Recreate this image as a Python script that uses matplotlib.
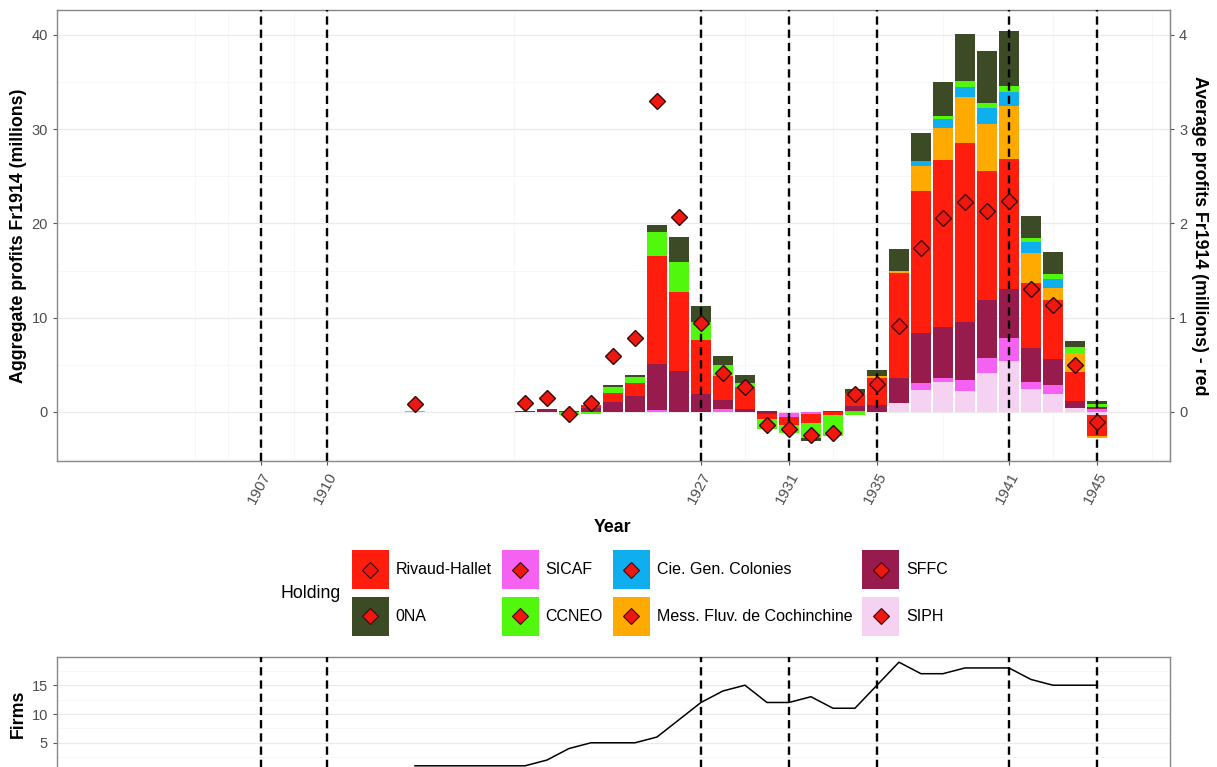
import numpy as np
import matplotlib
matplotlib.use("agg")
import matplotlib.pyplot as plt
from matplotlib.patches import Patch, Rectangle
from matplotlib.lines import Line2D
from matplotlib.ticker import FixedLocator

plt.rcParams['font.family'] = ['Liberation Sans', 'DejaVu Sans']

# years with profit data
years = [1914, 1919, 1920, 1921, 1922, 1923, 1924, 1925, 1926, 1927, 1928, 1929, 1930,
         1931, 1932, 1933, 1934, 1935, 1936, 1937, 1938, 1939, 1940, 1941, 1942, 1943,
         1944, 1945]

# aggregate profits by holding (Fr1914 millions)
ona = [0, 0, 0, 0, 0, 0.15, 0.2, 0.74, 2.65, 1.77, 0.95, 0.8, 0.15, 0, -0.25, 0, 0.4,
       0.65, 2.37, 2.9, 3.64, 4.95, 5.55, 5.84, 2.3, 2.37, 0.6, 0.35]
ccneo = [0.1, 0, 0, -0.3, -0.2, 0.65, 0.64, 2.55, 3.18, 1.84, 1.17, 0.4, -1.0, -0.9,
         -1.6, -2.25, -0.32, 0, 0, 0, 0.32, 0.6, 0.53, 0.6, 0.42, 0.53, 0.64, 0.25]
cie_gen = [0, 0, 0, 0, 0, 0, 0, 0, 0, 0, 0, 0, 0, 0, 0, 0, 0, 0, 0, 0.57, 0.92, 1.13,
           1.7, 1.52, 1.17, 0.99, 0, 0]
mess_fluv = [0, 0, 0, 0, 0, 0, 0, 0, 0, 0, 0, 0, 0, 0, 0, 0, 0, 0.2, 0.2, 2.62, 3.43,
             4.81, 4.92, 5.66, 3.25, 1.24, 2.0, -0.2]
rivaud = [0, 0, 0, 0, 0.3, 0.95, 1.38, 11.4, 8.3, 5.73, 2.47, 2.4, -0.53, -0.8, -1.0,
          -0.35, 1.4, 2.9, 11.2, 15.13, 17.7, 19.0, 13.72, 13.8, 6.9, 6.3, 3.1, -2.3]
sffc = [0, 0.09, 0.29, 0.15, 0.4, 1.1, 1.66, 4.85, 4.4, 1.94, 0.95, 0.3, -0.25, 0, 0,
        0.15, 0.5, 0.7, 2.58, 5.23, 5.4, 6.19, 6.12, 5.2, 3.6, 2.72, 0.78, 0.25]
sicaf = [0, 0, 0, 0, 0, 0, 0, 0.25, 0, 0, 0.35, 0, 0, -0.45, -0.2, 0, 0.15, 0, 0,
         0.78, 0.42, 1.13, 1.59, 2.37, 0.71, 0.95, 0, 0.3]
siph = [0, 0, 0, 0, 0, 0, 0, 0, 0, 0, 0, 0, 0, -0.1, 0, 0, 0, 0.05, 0.99, 2.33, 3.2,
        2.26, 4.17, 5.45, 2.44, 1.91, 0.4, -0.3]

# average profits (red diamonds, right axis)
avg_profits = [0.09, 0.10, 0.145, -0.02, 0.10, 0.59, 0.78, 3.30, 2.07, 0.94, 0.41, 0.26,
               -0.14, -0.18, -0.24, -0.22, 0.19, 0.30, 0.91, 1.74, 2.06, 2.23, 2.13,
               2.24, 1.30, 1.13, 0.50, -0.11]

# number of firms
firm_years = list(range(1914, 1946))
firms = [1, 1, 1, 1, 1, 1, 2, 4, 5, 5, 5, 6, 9, 12, 14, 15, 12, 12, 13, 11, 11, 15, 19,
         17, 17, 18, 18, 18, 16, 15, 15, 15]

vlines = [1907, 1910, 1927, 1931, 1935, 1941, 1945]

holdings = ["0NA", "CCNEO", "Cie. Gen. Colonies", "Mess. Fluv. de Cochinchine",
            "Rivaud-Hallet", "SFFC", "SICAF", "SIPH"]
series = [ona, ccneo, cie_gen, mess_fluv, rivaud, sffc, sicaf, siph]
colors = ["#3C4A25", "#52F70E", "#0FAFEF", "#FFAA00", "#FF1E0E", "#981B4E", "#F562F2",
          "#F5D2F2"]

DIAMOND = dict(marker='D', markerfacecolor='#EE1810', markeredgecolor='#3a0808')


class KeyHandler:
    # filled square with a red diamond in the middle, like the ggplot key
    def legend_artist(self, legend, orig_handle, fontsize, handlebox):
        x0, y0 = handlebox.xdescent, handlebox.ydescent
        w, h = handlebox.width, handlebox.height
        tr = handlebox.get_transform()
        rect = Rectangle((-x0, -y0), w, h, facecolor=orig_handle.get_facecolor(),
                         edgecolor='none', transform=tr)
        dm = Line2D([-x0 + w / 2], [-y0 + h / 2], linestyle='none', markersize=8,
                    markeredgewidth=0.8, transform=tr, **DIAMOND)
        handlebox.add_artist(rect)
        handlebox.add_artist(dm)
        return rect


fig = plt.figure(figsize=(12.17, 7.67), dpi=100)
ax = fig.add_axes([57/1217, 1-461/767, 1113/1217, 451/767])

x = np.array(years)
pos_base = np.zeros(len(years))
neg_base = np.zeros(len(years))
# ggplot stacking: last level nearest zero
for vals, col in zip(series[::-1], colors[::-1]):
    v = np.array(vals, dtype=float)
    p = np.where(v > 0, v, 0)
    n = np.where(v < 0, v, 0)
    ax.bar(x, p, bottom=pos_base, width=0.9, color=col, zorder=2)
    ax.bar(x, n, bottom=neg_base, width=0.9, color=col, zorder=2)
    pos_base += p
    neg_base += n

ax.plot(x, np.array(avg_profits) * 10, linestyle='none', markersize=8,
        markeredgewidth=1, zorder=4, **DIAMOND)

for yr in vlines:
    ax.axvline(yr, color='black', lw=1.7, linestyle=(0, (3.5, 2.1)), zorder=3)

ax.set_xlim(1897.73, 1948.32)
ax.set_ylim(-5.2, 42.65)
ax.set_xticks(vlines)
ax.set_xticklabels([str(v) for v in vlines], rotation=62, ha='right',
                   rotation_mode='anchor')
ax.xaxis.set_minor_locator(FixedLocator([1904, 1905.5, 1908.5, 1918.5, 1929, 1933,
                                         1938, 1943, 1947.5]))
ax.set_yticks([0, 10, 20, 30, 40])
ax.yaxis.set_minor_locator(FixedLocator([-5, 5, 15, 25, 35]))
ax.grid(True, which='major', color='#EBEBEB', lw=0.9, zorder=0)
ax.grid(True, which='minor', color='#F4F4F4', lw=0.5, zorder=0)
ax.set_axisbelow(True)
ax.tick_params(which='minor', length=0)
ax.tick_params(which='major', length=3, color='#555555', labelcolor='#4D4D4D',
               labelsize=10.5)
ax.tick_params(axis='x', labelsize=11)
for s in ax.spines.values():
    s.set_color('#888888')
    s.set_linewidth(1)

ax.set_ylabel("Aggregate profits Fr1914 (millions)", fontsize=12.8, fontweight='bold')
ax.yaxis.set_label_coords(-0.027, 0.5)
ax.set_xlabel("Year", fontsize=12.8, fontweight='bold')
ax.xaxis.set_label_coords(0.4995, -0.129)

sec = ax.secondary_yaxis('right', functions=(lambda y: y / 10, lambda y: y * 10))
sec.set_yticks([0, 1, 2, 3, 4])
sec.tick_params(length=3, color='#555555', labelcolor='#4D4D4D', labelsize=10.5)
sec.spines['right'].set_color('#888888')
sec.set_ylabel("Average profits Fr1914 (millions) - red", fontsize=12.8,
               fontweight='bold', rotation=270, labelpad=15)

# legend, filled column by column like the original
order = ["Rivaud-Hallet", "0NA", "SICAF", "CCNEO", "Cie. Gen. Colonies",
         "Mess. Fluv. de Cochinchine", "SFFC", "SIPH"]
handles = [Patch(facecolor=colors[holdings.index(name)]) for name in order]
fig.legend(handles, order, ncol=4, loc='center', bbox_to_anchor=(650/1217, 1-593/767),
           frameon=False, fontsize=11.5, handlelength=2.3, handleheight=3.4,
           handletextpad=0.45, columnspacing=0.62, labelspacing=0.45,
           handler_map={Patch: KeyHandler()})
fig.text(280/1217, 1-594/767, "Holding", fontsize=12.8, va='center', ha='left')

# firms panel
ax2 = fig.add_axes([57/1217, 1-771/767, 1113/1217, 114/767])
ax2.plot(firm_years, firms, color='black', lw=1.1, zorder=3)
for yr in vlines:
    ax2.axvline(yr, color='black', lw=1.7, linestyle=(0, (3.5, 2.1)), zorder=3)
ax2.set_xlim(1897.73, 1948.32)
ax2.set_ylim(0.1, 19.9)
ax2.set_yticks([5, 10, 15])
ax2.yaxis.set_minor_locator(FixedLocator([2.5, 7.5, 12.5, 17.5]))
ax2.set_xticks([])
ax2.grid(True, axis='y', which='major', color='#EBEBEB', lw=0.9, zorder=0)
ax2.grid(True, axis='y', which='minor', color='#F4F4F4', lw=0.5, zorder=0)
ax2.tick_params(which='minor', length=0)
ax2.tick_params(which='major', length=3, color='#555555', labelcolor='#4D4D4D',
                labelsize=10.5)
for s in ax2.spines.values():
    s.set_color('#888888')
    s.set_linewidth(1)
ax2.set_ylabel("Firms", fontsize=12.8, fontweight='bold')
ax2.yaxis.set_label_coords(-0.027, 0.5)

fig.savefig("out.png", dpi=100)
